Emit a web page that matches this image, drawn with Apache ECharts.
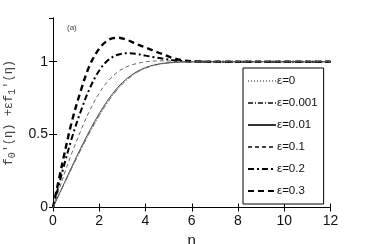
<!DOCTYPE html>
<html><head><meta charset="utf-8">
<script src="https://cdn.jsdelivr.net/npm/echarts@6/dist/echarts.min.js"></script>
<style>html,body{margin:0;padding:0;background:#fff}#c{width:365px;height:244px}</style>
</head><body><div id="c"></div>
<script>
// eta grid
var eta = [0,0.4,0.8,1.2,1.6,2.0,2.4,2.8,3.2,3.6,4.0,4.4,4.8,5.2,5.6,6.0,6.4,6.8,8,10,12];
var eps0     = [0,0.133,0.265,0.394,0.517,0.630,0.729,0.812,0.876,0.923,0.956,0.976,0.988,0.994,0.998,0.999,1.000,1,1,1,1];
var eps0001  = [0,0.134,0.266,0.395,0.518,0.631,0.730,0.813,0.877,0.924,0.956,0.976,0.988,0.994,0.998,0.999,1.000,1,1,1,1];
var eps001   = [0,0.138,0.275,0.407,0.532,0.645,0.743,0.824,0.885,0.930,0.960,0.979,0.990,0.995,0.998,0.999,1.000,1,1,1,1];
var eps01    = [0,0.188,0.367,0.527,0.669,0.785,0.871,0.930,0.966,0.987,1.000,1.005,1.006,1.003,1.001,1.000,1.000,1,1,1,1];
var eps02    = [0,0.243,0.469,0.660,0.821,0.940,1.013,1.048,1.058,1.054,1.042,1.030,1.020,1.010,1.005,1.002,1.001,1,1,1,1];
var eps03    = [0,0.300,0.580,0.800,0.980,1.090,1.150,1.165,1.150,1.122,1.098,1.072,1.048,1.024,1.010,1.003,1.001,1,1,1,1];
var seriesNames = ['ε=0','ε=0.001','ε=0.01','ε=0.1','ε=0.2','ε=0.3'];
var xTicks = [0,2,4,6,8,10,12];
var yTicks = [0,0.5,1];

var vals = [eps0, eps0001, eps001, eps01, eps02, eps03];
var styles = [
  {color:'#888', width:1, type:[1,2]},
  {color:'#444', width:0.8, type:[5,2,1,2]},
  {color:'#333', width:0.9, type:'solid'},
  {color:'#444', width:0.8, type:[4,3]},
  {color:'#000', width:2, type:[6,3,2,3]},
  {color:'#000', width:2.4, type:[6,4]}
];
function pairs(v){ return eta.map(function(x,i){return [x, v[i]];}); }
var series = vals.map(function(v,i){
  return {name: seriesNames[i], type:'line', data: pairs(v), smooth:0.35, symbol:'none', showSymbol:false,
    lineStyle: styles[i], itemStyle:{color: styles[i].color}, z: 10 - i, animation:false};
});

var chart = echarts.init(document.getElementById('c'), null, {renderer:'canvas'});
var axFont = 'Liberation Sans';
chart.setOption({
  animation:false,
  grid:{left:53, right:34.5, top:18, bottom:36.5, outerBoundsMode:'none', containLabel:false},
  title:{text:'(a)', left:62, top:19, textStyle:{fontSize:8, fontWeight:'normal', color:'#444', fontFamily:axFont}},
  legend:{orient:'vertical', left:243, top:68, width:81,
    padding:[7,6,7,4], itemGap:10, itemWidth:28, itemHeight:10,
    borderColor:'#000', borderWidth:1, backgroundColor:'#fff',
    itemStyle:{opacity:0, borderWidth:0},
    textStyle:{fontSize:11.5, color:'#111', fontFamily:axFont, padding:[0,0,0,-4]},
    data: seriesNames},
  xAxis:[
    {type:'value', min:0, max:12, interval:2, position:'bottom',
     name:'η', nameLocation:'middle', nameGap:22, nameTextStyle:{fontSize:15, color:'#111', fontFamily:axFont},
     axisLine:{lineStyle:{color:'#000', width:1}}, splitLine:{show:false},
     axisTick:{inside:true, length:4, lineStyle:{color:'#000'}},
     axisLabel:{fontSize:14, color:'#111', margin:7, fontFamily:axFont}},
    {type:'value', min:0, max:12, interval:2, position:'top',
     axisLine:{show:true, lineStyle:{color:'#000', width:1}}, splitLine:{show:false},
     axisTick:{inside:true, length:4, lineStyle:{color:'#000'}}, axisLabel:{show:false}}
  ],
  yAxis:[
    {type:'value', min:0, max:1.3, interval:0.5, position:'left',
     name:'f{s|0}′(η) +εf{s|1}′(η)', nameLocation:'middle', nameRotate:90, nameGap:33,
     nameTextStyle:{fontSize:12, color:'#444', fontFamily:'Liberation Mono',
       rich:{s:{fontSize:10, color:'#444', fontFamily:'Liberation Mono', padding:[7,0,0,0]}}},
     axisLine:{show:true, lineStyle:{color:'#000', width:1}}, splitLine:{show:false},
     axisTick:{inside:true, length:4, lineStyle:{color:'#000'}},
     axisLabel:{fontSize:14, color:'#111', margin:5, showMaxLabel:false, fontFamily:axFont,
       formatter:function(v){ return yTicks.indexOf(v) >= 0 ? String(v) : ''; }}},
    {type:'value', min:0, max:1.3, interval:0.5, position:'right',
     axisLine:{show:true, lineStyle:{color:'#000', width:1}}, splitLine:{show:false},
     axisTick:{inside:true, length:4, lineStyle:{color:'#000'}}, axisLabel:{show:false}}
  ],
  series: series
});
</script></body></html>
